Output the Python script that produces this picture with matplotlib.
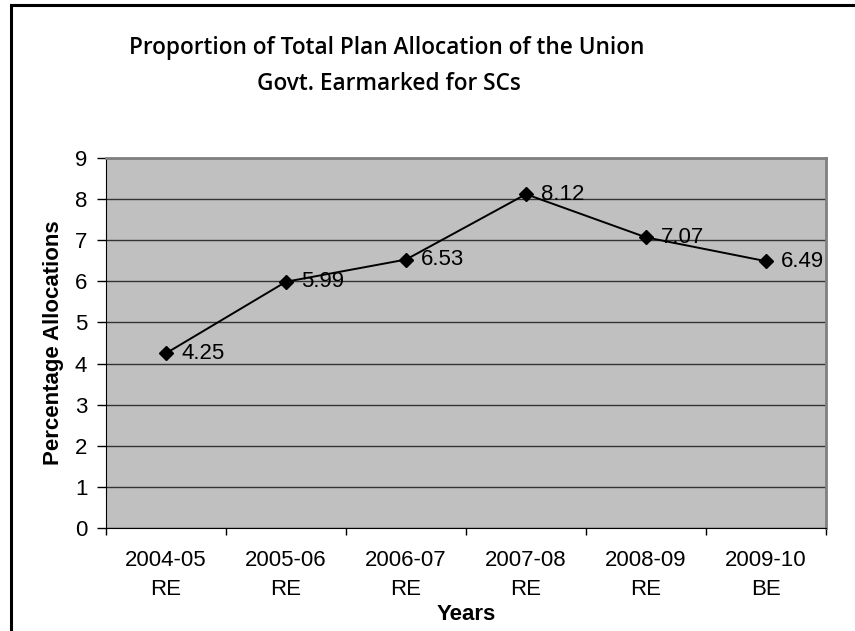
import matplotlib.pyplot as plt
from matplotlib.patches import Rectangle

years = ["2004-05\nRE", "2005-06\nRE", "2006-07\nRE", "2007-08\nRE", "2008-09\nRE", "2009-10\nBE"]
allocation = [4.25, 5.99, 6.53, 8.12, 7.07, 6.49]
yticks = [0, 1, 2, 3, 4, 5, 6, 7, 8, 9]

plt.rcParams['font.family'] = ['Liberation Sans', 'DejaVu Sans']

W, H = 855, 631
fig = plt.figure(figsize=(W / 100, H / 100), dpi=100)
ax = fig.add_axes([106 / W, 1 - 528 / H, 720 / W, 370 / H])

# outer frame of the chart (runs off the right and bottom edges)
fig.patches.append(Rectangle((11 / W, -0.1), 2, 1 - 5 / H + 0.1, transform=fig.transFigure,
                             fill=False, edgecolor='black', linewidth=2.2))

ax.set_facecolor('#c0c0c0')
x = list(range(len(years)))
ax.plot(x, allocation, color='black', linewidth=1.4, marker='D', markersize=7, zorder=3)
for xi, v in zip(x, allocation):
    ax.annotate("%.2f" % v, (xi, v), xytext=(11, 0), textcoords='offset points',
                va='center', ha='left', fontsize=16, zorder=4)

ax.set_xlim(-0.5, len(years) - 0.5)
ax.set_ylim(0, 9)
ax.set_yticks(yticks)
ax.set_xticks([i - 0.5 for i in range(len(years) + 1)])
ax.set_xticklabels([])
ax.set_xticks(x, minor=True)
ax.set_xticklabels(years, minor=True, fontsize=16, linespacing=1.5)
ax.tick_params(axis='x', which='minor', length=0, pad=16)
ax.tick_params(axis='x', which='major', length=5, width=1, direction='out')
ax.tick_params(axis='y', length=6.5, width=1, direction='out', labelsize=16, pad=7)

ax.yaxis.grid(True, color='#333333', linewidth=1)
ax.set_axisbelow(True)
for s in ['top', 'right']:
    ax.spines[s].set_color('#808080')
    ax.spines[s].set_linewidth(2)
ax.spines['left'].set_color('black')
ax.spines['bottom'].set_color('black')

ax.set_ylabel("Percentage Allocations", fontsize=16, fontweight='bold', labelpad=8)
ax.xaxis.set_label_coords(0.5 * (466 - 106) / 360, -(615 - 528) / 370)
ax.set_xlabel("Years", fontsize=16, fontweight='bold', va='center')

fig.text(387 / W, 1 - 48 / H, "Proportion of Total Plan Allocation of the Union",
         ha='center', va='center', fontsize=16.3, family='Open Sans', fontweight='semibold')
fig.text(389 / W, 1 - 84 / H, "Govt. Earmarked for SCs",
         ha='center', va='center', fontsize=16.3, family='Open Sans', fontweight='semibold')

fig.savefig("out.png", dpi=100)
